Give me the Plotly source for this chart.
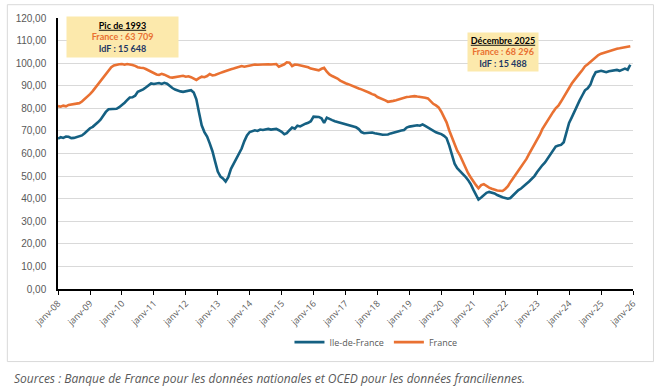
import pandas as pd
import plotly.graph_objects as go

# Monthly series, Jan 2008 -> Dec 2025 (index)
months = pd.date_range("2008-01-01", periods=216, freq="MS")

france = [
    81.0, 80.7, 81.2, 80.9, 81.5, 81.7, 81.6, 81.9, 82.3, 83.0, 84.0, 85.0,  # 2008
    86.3, 87.6, 89.0, 90.6, 92.5, 94.0, 95.5, 97.0, 98.2, 99.0, 99.4, 99.5,  # 2009
    99.6, 99.3, 99.6, 99.5, 99.2, 98.8, 98.2, 98.0, 97.9, 97.4, 96.8, 96.0,  # 2010
    95.5, 95.0, 94.8, 95.3, 94.9, 94.2, 93.8, 93.6, 93.8, 94.0, 94.2, 94.4,  # 2011
    94.0, 94.2, 93.8, 93.2, 92.6, 93.4, 94.0, 93.8, 94.3, 95.2, 94.6, 94.8,  # 2012
    95.4, 95.7, 96.1, 96.6, 96.9, 97.3, 97.6, 98.0, 98.5, 98.7, 98.4, 98.6,  # 2013
    98.9, 99.3, 99.4, 99.3, 99.4, 99.3, 99.4, 99.5, 99.4, 99.5, 99.6, 98.4,  # 2014
    98.8, 99.5, 100.4, 100.2, 98.7, 99.4, 99.3, 99.1, 98.9, 98.7, 98.2, 97.6,  # 2015
    97.4, 97.0, 96.8, 97.5, 97.9, 96.2, 95.0, 94.3, 93.8, 93.2, 92.3, 91.6,  # 2016
    91.1, 90.7, 90.2, 89.8, 89.3, 88.8, 88.4, 88.0, 87.5, 86.9, 86.3, 85.9,  # 2017
    85.0, 84.6, 84.0, 83.5, 82.9, 83.0, 83.3, 83.6, 84.0, 84.5, 84.7, 85.0,  # 2018
    85.1, 85.3, 85.4, 85.2, 85.1, 85.0, 84.7, 84.4, 83.0, 82.0, 81.3, 80.4,  # 2019
    78.5, 76.2, 73.8, 70.2, 67.0, 63.5, 61.2, 59.2, 56.4, 53.7, 51.4, 49.5,  # 2020
    47.5, 46.0, 44.6, 46.0, 46.4, 45.5, 44.9, 44.4, 43.9, 43.6, 43.5, 43.4,  # 2021
    44.3, 45.5, 47.3, 49.0, 50.5, 52.2, 54.0, 55.6, 57.6, 59.8, 61.8, 64.0,  # 2022
    65.8, 68.3, 70.8, 72.8, 74.6, 76.4, 78.3, 80.0, 81.2, 83.0, 85.0, 87.2,  # 2023
    89.3, 91.0, 92.5, 93.8, 95.5, 97.0, 98.6, 99.5, 100.5, 101.8, 102.8, 103.6,  # 2024
    104.2, 104.6, 105.0, 105.5, 105.7, 106.0, 106.4, 106.6, 106.8, 107.2, 107.3, 107.5,  # 2025
]

idf = [
    66.6, 67.2, 66.9, 67.5, 67.4, 66.8, 66.9, 67.2, 67.4, 68.0, 69.0, 70.2,  # 2008
    71.2, 71.8, 72.6, 73.8, 75.0, 76.8, 78.4, 79.6, 79.6, 79.5, 79.8, 80.5,  # 2009
    81.4, 82.5, 83.6, 84.8, 84.9, 85.6, 87.3, 87.8, 88.4, 89.2, 90.0, 91.0,  # 2010
    90.8, 91.0, 91.2, 90.8, 91.3, 90.9, 89.9, 89.0, 88.3, 87.8, 87.5, 87.3,  # 2011
    87.5, 87.6, 88.0, 87.0, 84.0, 78.0, 72.5, 69.5, 67.5, 64.5, 61.0, 56.5,  # 2012
    52.0, 49.8, 49.0, 47.6, 49.5, 53.2, 55.3, 57.6, 59.8, 62.2, 65.5, 68.0,  # 2013
    69.5, 69.9, 70.3, 70.0, 70.6, 70.4, 70.5, 70.9, 70.6, 70.8, 70.9, 70.3,  # 2014
    69.6, 68.5, 69.0, 70.3, 71.5, 71.0, 72.3, 72.0, 72.8, 73.2, 73.6, 74.3,  # 2015
    76.3, 76.4, 76.2, 75.6, 73.6, 75.9, 75.2, 74.8, 74.3, 74.0, 73.6, 73.3,  # 2016
    73.0, 72.6, 72.4, 72.0, 71.6, 70.8, 69.5, 69.0, 69.1, 69.2, 69.3, 69.0,  # 2017
    68.6, 68.5, 68.3, 68.2, 68.4, 68.9, 69.3, 69.7, 70.0, 70.2, 70.4, 71.5,  # 2018
    71.9, 72.1, 72.2, 72.5, 72.3, 72.9, 72.2, 71.4, 70.6, 69.9, 69.4, 69.0,  # 2019
    68.6, 67.8, 66.8, 63.5, 59.5, 55.5, 53.5, 52.3, 51.2, 49.8, 48.3, 46.5,  # 2020
    44.0, 42.0, 39.6, 40.5, 41.6, 42.6, 43.0, 42.7, 42.3, 41.6, 41.0, 40.6,  # 2021
    40.3, 40.0, 40.3, 41.5, 42.6, 43.8, 44.5, 45.4, 46.6, 47.6, 48.8, 50.0,  # 2022
    51.8, 53.5, 54.8, 56.0, 57.8, 59.5, 61.0, 63.1, 63.5, 63.8, 65.0, 69.0,  # 2023
    73.5, 76.0, 78.6, 81.0, 83.5, 85.8, 88.0, 88.9, 90.5, 93.7, 96.0, 96.3,  # 2024
    96.6, 96.3, 96.0, 96.4, 96.6, 96.9, 97.0, 96.6, 97.2, 97.6, 97.1, 99.3,  # 2025
]

tick_years = list(range(2008, 2027))
tick_vals = [f"{y}-01-01" for y in tick_years]
tick_text = [f"janv-{str(y)[2:]}" for y in tick_years]

series_names = ["Ile-de-France", "France"]
series_colors = ["#156082", "#E97132"]

fig = go.Figure()
fig.add_trace(go.Scatter(x=months, y=idf, mode="lines", name=series_names[0],
                         line=dict(color=series_colors[0], width=2.6)))
fig.add_trace(go.Scatter(x=months, y=france, mode="lines", name=series_names[1],
                         line=dict(color=series_colors[1], width=2.6)))

grey = "#595959"
fig.update_layout(
    width=658, height=390,
    margin=dict(l=57.7, r=25, t=18.3, b=101, autoexpand=False),
    paper_bgcolor="white", plot_bgcolor="white",
    separators=", ",
    showlegend=True,
    legend=dict(orientation="h", x=0.553, xanchor="center", y=-0.196, yanchor="middle",
                font=dict(family="Open Sans", size=9, color=grey), itemwidth=30,
                tracegroupgap=0),
    font=dict(family="Open Sans", color=grey),
)
fig.update_xaxes(
    type="date", range=["2008-01-01", "2026-01-01"],
    tickvals=tick_vals, ticktext=tick_text, tickangle=-45,
    tickfont=dict(family="Open Sans", size=9, color=grey),
    showgrid=False, showline=True, linecolor="black", linewidth=1.5,
    ticks="outside", ticklen=4, tickcolor="black", tickwidth=1, zeroline=False,
)
fig.update_yaxes(
    range=[0, 120], dtick=10, tickformat=".2f",
    tickfont=dict(family="Liberation Sans", size=10, color=grey),
    showgrid=True, gridcolor="#D9D9D9", gridwidth=1,
    showline=True, linecolor="black", linewidth=1.5, zeroline=False,
    ticks="", ticklabelstandoff=8,
)

box_font = dict(family="Lato", size=9, color="black")
fig.add_annotation(
    xref="paper", yref="paper", x=0.1126, y=0.931, xanchor="center", yanchor="middle",
    text="<b><u>Pic de 1993</u></b><br><b><span style='color:#E97132'>France : 63 709</span></b>"
         "<br><b><span style='color:#1F3864'>IdF : 15 648</span></b>",
    showarrow=False, bgcolor="#FCE9AC", width=109, height=38, font=box_font, align="center",
)
fig.add_annotation(
    xref="paper", yref="paper", x=0.774, y=0.8755, xanchor="center", yanchor="middle",
    text="<b><u>Décembre 2025</u></b><br><b><span style='color:#E97132'>France : 68 296</span></b>"
         "<br><b><span style='color:#1F3864'>IdF : 15 488</span></b>",
    showarrow=False, bgcolor="#FCE9AC", width=68, height=36, font=box_font, align="center",
)

# outer frame of the chart
fig.add_shape(type="rect", xref="paper", yref="paper",
              x0=-0.0881, x1=1.0356, y0=-0.2678, y1=1.0491,
              line=dict(color="#D9D9D9", width=1), fillcolor="rgba(0,0,0,0)", layer="below")

fig.add_annotation(
    xref="paper", yref="paper", x=(12 - 57.7) / 575.3, y=(289 - 378) / 270.7,
    xanchor="left", yanchor="middle", showarrow=False,
    text="<i>Sources : Banque de France pour les données nationales et OCED pour les données franciliennes.</i>",
    font=dict(family="Open Sans", size=12, color=grey),
)

fig.write_html(
    "out.html",
    config={"displayModeBar": False},
    post_script="document.body.style.margin='0';document.body.style.overflow='hidden';",
)
